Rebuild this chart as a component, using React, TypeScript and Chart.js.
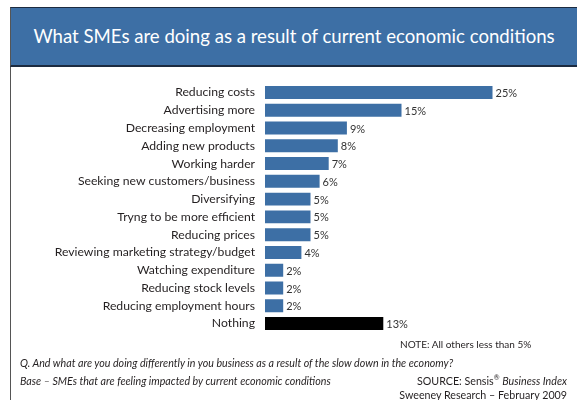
import React, { useEffect, useRef } from "react";
import { Chart, registerables } from "chart.js";

Chart.register(...registerables);

const categories = [
  "Reducing costs",
  "Advertising more",
  "Decreasing employment",
  "Adding new products",
  "Working harder",
  "Seeking new customers/business",
  "Diversifying",
  "Tryng to be more efficient",
  "Reducing prices",
  "Reviewing marketing strategy/budget",
  "Watching expenditure",
  "Reducing stock levels",
  "Reducing employment hours",
  "Nothing",
];
const values = [25, 15, 9, 8, 7, 6, 5, 5, 5, 4, 2, 2, 2, 13];
const valueLabels = values.map((v) => v + "%");
const xMin = 0;
const xMax = 30;

const title = "What SMEs are doing as a result of current economic conditions";
const note = "NOTE: All others less than 5%";
const question =
  "Q. And what are you doing differently in you business as a result of the slow down in the economy?";
const base = "Base – SMEs that are feeling impacted by current economic conditions";
const sourceLabel = "SOURCE: Sensis";
const sourceTitle = "Business Index";
const research = "Sweeney Research – February 2009";

const BLUE = "#3d6fa5";
const FONT = "Lato, 'Liberation Sans', sans-serif";

const valueLabelPlugin = {
  id: "valueLabels",
  afterDatasetsDraw(chart: any) {
    const ctx = chart.ctx;
    const meta = chart.getDatasetMeta(0);
    ctx.save();
    ctx.font = "11px " + FONT;
    ctx.fillStyle = "#333333";
    ctx.textAlign = "left";
    ctx.textBaseline = "middle";
    meta.data.forEach((bar: any, i: number) => {
      ctx.fillText(valueLabels[i], bar.x + 3, bar.y + 1);
    });
    ctx.restore();
  },
};

export default function App() {
  const canvasRef = useRef<HTMLCanvasElement | null>(null);

  useEffect(() => {
    if (!canvasRef.current) return;
    const chart = new Chart(canvasRef.current, {
      type: "bar",
      data: {
        labels: categories,
        datasets: [
          {
            data: values,
            backgroundColor: categories.map((c) => (c === "Nothing" ? "#000000" : BLUE)),
            borderWidth: 0,
            categoryPercentage: 1,
            barPercentage: 0.73,
          },
        ],
      },
      options: {
        indexAxis: "y",
        animation: false,
        responsive: false,
        maintainAspectRatio: false,
        layout: { padding: { left: 0, right: 43, top: 83.6, bottom: 67.6 } },
        scales: {
          x: { display: false, min: xMin, max: xMax },
          y: {
            grid: { display: false, drawTicks: false },
            border: { display: false },
            ticks: {
              padding: 10,
              autoSkip: false,
              color: "#231f20",
              font: { family: FONT, size: 12.2 },
            },
            afterFit: (s: any) => {
              s.width = 265;
            },
          },
        },
        plugins: {
          legend: { display: false },
          tooltip: { enabled: false },
        },
      },
      plugins: [valueLabelPlugin],
    });
    return () => chart.destroy();
  }, []);

  const small: React.CSSProperties = {
    position: "absolute",
    fontFamily: FONT,
    fontSize: 10.7,
    lineHeight: "12px",
    color: "#231f20",
    whiteSpace: "nowrap",
  };

  return (
    <div
      style={{
        position: "absolute",
        left: 0,
        top: 0,
        width: 581,
        height: 400,
        background: "#ffffff",
        overflow: "hidden",
      }}
    >
      <canvas
        ref={canvasRef}
        width={581}
        height={400}
        style={{ position: "absolute", left: 0, top: 0, width: 581, height: 400 }}
      />
      <div style={{ position: "absolute", left: 10, top: 7, width: 1, height: 393, background: "#555" }} />
      <div
        style={{
          position: "absolute",
          left: 10,
          top: 7,
          width: 567,
          height: 60,
          boxSizing: "border-box",
          background: BLUE,
          borderTop: "1px solid #1c2b40",
          borderBottom: "2px solid #1c2b40",
          borderLeft: "1px solid #555",
          color: "#ffffff",
          fontFamily: FONT,
          fontSize: 18.6,
          lineHeight: "57px",
          textAlign: "center",
          whiteSpace: "nowrap",
        }}
      >
        {title}
      </div>
      <div style={{ ...small, fontSize: 10, left: 400, top: 338 }}>{note}</div>
      <div style={{ ...small, left: 20, top: 357, fontStyle: "italic" }}>{question}</div>
      <div style={{ ...small, left: 20, top: 375, fontStyle: "italic" }}>{base}</div>
      <div style={{ ...small, right: 14, top: 375, textAlign: "right" }}>
        {sourceLabel}
        <sup style={{ fontSize: 7, lineHeight: 0 }}>®</sup> <i>{sourceTitle}</i>
      </div>
      <div style={{ ...small, right: 14, top: 389, textAlign: "right" }}>{research}</div>
    </div>
  );
}
